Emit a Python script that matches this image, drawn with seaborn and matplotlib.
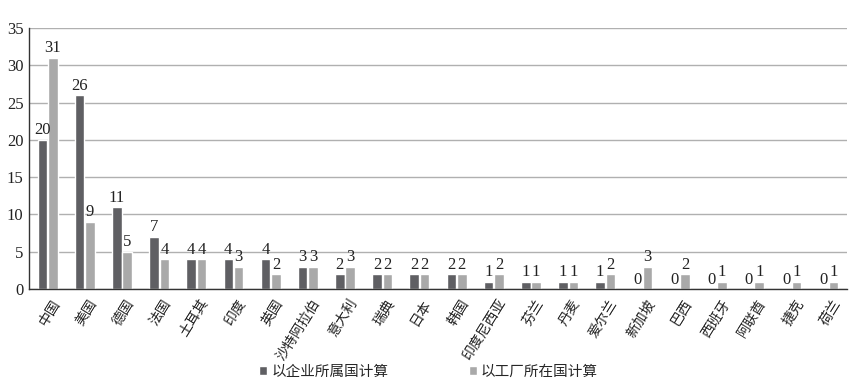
import matplotlib
matplotlib.use("Agg")
import matplotlib.pyplot as plt
import matplotlib.transforms as mtransforms
import seaborn as sns
import pandas as pd

countries = ["中国", "美国", "德国", "法国", "土耳其", "印度", "英国", "沙特阿拉伯", "意大利", "瑞典", "日本",
             "韩国", "印度尼西亚", "芬兰", "丹麦", "爱尔兰", "新加坡", "巴西", "西班牙", "阿联酋", "捷克", "荷兰"]
by_company = [20, 26, 11, 7, 4, 4, 4, 3, 2, 2, 2, 2, 1, 1, 1, 1, 0, 0, 0, 0, 0, 0]
by_factory = [31, 9, 5, 4, 4, 3, 2, 3, 3, 2, 2, 2, 2, 1, 1, 2, 3, 2, 1, 1, 1, 1]
series_names = ["以企业所属国计算", "以工厂所在国计算"]
yticks = [0, 5, 10, 15, 20, 25, 30, 35]

df = pd.DataFrame({
    "country": countries * 2,
    "value": by_company + by_factory,
    "series": [series_names[0]] * len(countries) + [series_names[1]] * len(countries),
})

sns.set_theme(style="white")
plt.rcParams["font.family"] = ["Liberation Serif", "Noto Sans CJK SC", "DejaVu Sans"]

fig = plt.figure(figsize=(8.57, 3.82), dpi=100)
ax = fig.add_axes([29 / 857, 1 - 289 / 382, (847 - 29) / 857, (289 - 28) / 382])

palette = ["#5f5f63", "#a9a9a9"]
sns.barplot(data=df, x="country", y="value", hue="series", palette=palette,
            width=0.56, gap=0.08, ax=ax, saturation=1, legend=True)

for cont in ax.containers:
    ax.bar_label(cont, fmt="%d", padding=1, fontsize=12, color="#222222")

ax.set_ylim(0, 35)
ax.set_yticks(yticks)
ax.set_yticklabels([str(t) for t in yticks], fontsize=12)
ax.yaxis.grid(True, color="#b0b0b0", linewidth=1)
ax.set_axisbelow(True)
ax.set_xlim(-0.5, len(countries) - 0.5)
ax.set_xlabel("")
ax.set_ylabel("")
ax.tick_params(axis="y", length=0, pad=4, colors="#222222")
ax.tick_params(axis="x", length=0, pad=6, colors="#222222")
offset = mtransforms.ScaledTranslation(4 / 100, 0, fig.dpi_scale_trans)
for lbl in ax.get_xticklabels():
    lbl.set_rotation(58)
    lbl.set_ha("right")
    lbl.set_va("top")
    lbl.set_rotation_mode("anchor")
    lbl.set_fontsize(10)
    lbl.set_transform(lbl.get_transform() + offset)

for s in ["top", "right"]:
    ax.spines[s].set_visible(False)
ax.spines["left"].set_color("#333333")
ax.spines["bottom"].set_color("#333333")
ax.spines["left"].set_linewidth(1)
ax.spines["bottom"].set_linewidth(1)

handles, labels = ax.get_legend_handles_labels()
ax.legend_.remove()
fig.legend(handles, labels, loc="center", bbox_to_anchor=(0.5, 1 - 372 / 382), ncol=2,
           frameon=False, fontsize=10.5, handlelength=0.55, handleheight=0.55,
           columnspacing=5.5, handletextpad=0.3)

fig.savefig("out.png", dpi=100)
